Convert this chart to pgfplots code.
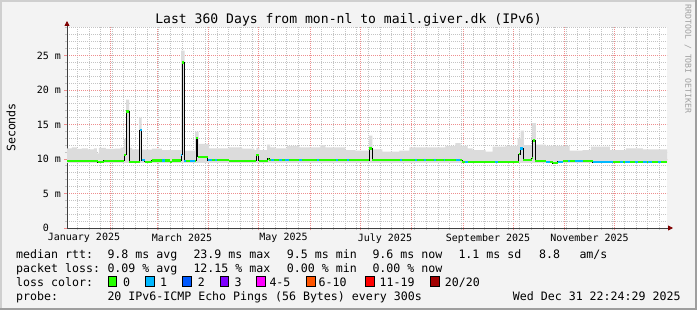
\documentclass[border=0pt]{standalone}
\usepackage{fontspec}
\setmainfont{DejaVu Sans Mono}
\usepackage{pgfplots}
\usepackage{pgfplotstable}
\pgfplotsset{compat=1.18}
\usetikzlibrary{arrows.meta}
\definecolor{bgc}{HTML}{F3F3F3}
\definecolor{shadeA}{HTML}{CFCFCF}
\definecolor{shadeB}{HTML}{9E9E9E}
\definecolor{smoke}{HTML}{DCDCDC}
\definecolor{mgrid}{HTML}{EE8E8E}
\definecolor{ngrid}{HTML}{C4C4C4}
\definecolor{l0}{HTML}{26FF00}
\definecolor{l1}{HTML}{00B8FF}
\definecolor{l2}{HTML}{0059FF}
\definecolor{l3}{HTML}{7E00FF}
\definecolor{l4}{HTML}{FF00FF}
\definecolor{l6}{HTML}{FF5500}
\definecolor{l11}{HTML}{FF0000}
\definecolor{l20}{HTML}{A10000}
\definecolor{arrowc}{HTML}{7F0000}
\definecolor{wmark}{HTML}{A0A0A0}
\newcommand{\fs}[1]{\fontsize{#1bp}{#1bp}\selectfont}

% median rtt (step start day, ms)
\pgfplotstableread{
x y
4.8 9.75
23.4 9.55
27.0 9.75
39.3 10.6
40.5 16.9
42.1 9.55
48.4 14.2
49.6 9.85
51.7 9.6
55.9 9.8
66.5 9.6
68.0 9.8
73.4 10.6
74.1 24.0
75.4 9.75
82.6 13.0
83.3 10.3
89.4 9.85
102.3 9.75
118.7 10.55
120.2 9.75
125.5 10.0
126.5 9.85
186.5 11.5
188.4 9.85
242.5 9.6
276.4 10.7
277.3 11.5
279.2 9.85
284.3 10.1
285.0 12.7
286.4 9.75
292.6 9.6
296.9 9.4
299.9 9.6
302.9 9.7
321.0 9.55
365.6 9.55
}\med

% smoke: upper edge (steps), then lower edge back to start
\pgfplotstableread{
x y
4.8 11.55
7.7 11.7
10.7 11.45
13.7 11.55
17.4 11.4
21.0 11.55
22.8 10.8
24.0 11.6
28.2 11.45
33.6 11.5
37.0 11.65
39.0 12.9
40.3 18.6
42.1 11.6
43.9 11.4
48.2 16.0
49.6 11.35
55.9 11.5
61.9 11.3
73.5 25.7
75.6 11.2
81.9 13.96
84.0 12.2
90.2 11.55
102.3 11.7
110.1 11.5
117.4 11.3
118.7 11.6
120.5 11.3
125.2 12.1
127.0 11.7
130.0 11.55
137.2 11.9
144.5 11.7
157.1 12.0
160.1 11.7
172.2 11.3
178.2 11.2
186.5 13.4
188.4 11.4
194.5 11.06
204.7 11.2
210.7 11.7
232.4 11.9
238.4 12.3
241.5 11.9
245.7 11.55
248.7 11.3
256.5 11.06
260.7 11.8
268.6 11.9
275.8 13.0
277.6 14.1
279.5 12.0
284.3 15.2
286.7 12.1
292.6 11.9
307.1 11.2
314.9 11.3
319.8 11.8
331.2 11.3
340.8 11.55
351.1 11.4
365.6 11.4
365.6 9.45
4.8 9.45
}\smk

% median segments with 1 lost ping
\pgfplotstableread{
x y
48.4 14.2
49.6 14.2
nan nan
49.6 9.85
51.7 9.85
nan nan
62.0 9.8
64.0 9.8
nan nan
73.4 10.6
74.1 10.6
nan nan
75.4 9.75
76.6 9.75
nan nan
78.8 9.75
81.8 9.75
nan nan
89.4 9.85
92.1 9.85
nan nan
93.9 9.85
95.1 9.85
nan nan
127.6 9.85
129.4 9.85
nan nan
132.4 9.85
134.2 9.85
nan nan
136.0 9.85
138.4 9.85
nan nan
144.5 9.85
146.3 9.85
nan nan
155.3 9.85
156.5 9.85
nan nan
166.3 9.85
167.5 9.85
nan nan
173.4 9.85
174.6 9.85
nan nan
205.3 9.85
206.5 9.85
nan nan
214.3 9.85
215.5 9.85
nan nan
219.2 9.85
220.4 9.85
nan nan
225.2 9.85
226.4 9.85
nan nan
231.2 9.85
232.4 9.85
nan nan
239.0 9.85
240.9 9.85
nan nan
243.9 9.6
245.7 9.6
nan nan
261.9 9.6
263.7 9.6
nan nan
277.3 11.5
279.2 11.5
nan nan
292.6 9.6
295.0 9.6
nan nan
299.9 9.6
302.9 9.6
nan nan
305.9 9.7
307.1 9.7
nan nan
310.1 9.7
314.9 9.7
nan nan
321.0 9.55
333.0 9.55
nan nan
337.2 9.55
339.0 9.55
nan nan
340.2 9.55
343.3 9.55
nan nan
346.2 9.55
348.0 9.55
nan nan
351.1 9.55
353.3 9.55
nan nan
354.1 9.55
356.5 9.55
nan nan
360.0 9.55
362.0 9.55
}\blu

\begin{document}
\begin{tikzpicture}
\fill[shadeB] (0bp,0bp) rectangle (697bp,310bp);
\fill[shadeA] (0bp,2bp) rectangle (695bp,310bp);
\fill[bgc] (2bp,2bp) rectangle (695bp,308bp);

\begin{axis}[
  at={(67bp,82bp)}, anchor=south west,
  scale only axis, width=600bp, height=201bp,
  xmin=4.8, xmax=365.6, ymin=0, ymax=29.13,
  axis background/.style={fill=white},
  axis lines=left,
  axis line style={black!75, line width=0.8bp, -{Triangle[length=5bp,width=5bp,color=arrowc,fill=arrowc]}, shorten >=-6bp},
  tick align=outside,
  major tick length=2.5bp, minor tick length=2bp,
  major tick style={mgrid, line width=0.8bp},
  minor tick style={ngrid, line width=0.8bp},
  grid=both,
  major grid style={mgrid, line width=0.8bp, dash pattern=on 1bp off 1bp},
  minor grid style={ngrid, line width=0.8bp, dash pattern=on 1bp off 1bp},
  xtick={31,59,90,120,151,181,212,243,273,304,334},
  xticklabels={},
  minor xtick={11,18,...,361},
  extra x ticks={15,74,135,196,258,319},
  extra x tick labels={January 2025,March 2025,May 2025,July 2025,September 2025,November 2025},
  extra x tick style={grid=none, major tick length=0pt},
  ytick={0,5,10,15,20,25},
  yticklabels={{0\hphantom{mm}},{5 m},{10 m},{15 m},{20 m},{25 m}},
  minor ytick={1,2,...,29},
  tick label style={font=\fs{10}, text=black},
  xticklabel style={yshift=-2bp},
  clip=true,
]
\addplot[smoke, fill=smoke, draw=none, const plot] table {\smk};
\addplot[black, line width=1bp, const plot] table {\med};
\addplot[l0, line width=2.3bp, jump mark left] table {\med};
\addplot[l1, line width=2.3bp, unbounded coords=jump] table {\blu};
\end{axis}

% title
\node[anchor=base, font=\fs{13.1}, inner sep=0] at (348.5bp,286.5bp) {Last 360 Days from mon-nl to mail.giver.dk (IPv6)};
% y label
\node[rotate=90, font=\fs{11.6}, inner sep=0] at (11bp,182.5bp) {Seconds};
% watermark
\node[rotate=-90, font=\fs{8.2}, text=wmark, inner sep=0] at (688bp,251bp) {RRDTOOL / TOBI OETIKER};

% legend
\begin{scope}[every node/.style={anchor=base west, font=\fs{11.6}, inner sep=0}]
\node at (16bp,51.7bp) {median rtt:};
\node at (107.3bp,51.7bp) {9.8 ms avg};
\node at (193.3bp,51.7bp) {23.9 ms max};
\node at (286.7bp,51.7bp) {9.5 ms min};
\node at (372.3bp,51.7bp) {9.6 ms now};
\node at (458.3bp,51.7bp) {1.1 ms sd};
\node at (539bp,51.7bp) {8.8};
\node at (579.3bp,51.7bp) {am/s};

\node at (16bp,37.8bp) {packet loss:};
\node at (107.3bp,37.8bp) {0.09 \% avg};
\node at (193.3bp,37.8bp) {12.15 \% max};
\node at (286.7bp,37.8bp) {0.00 \% min};
\node at (372.3bp,37.8bp) {0.00 \% now};

\node at (16bp,23.9bp) {loss color:};
\node at (123bp,23.9bp) {0};
\node at (160bp,23.9bp) {1};
\node at (197.7bp,23.9bp) {2};
\node at (234.3bp,23.9bp) {3};
\node at (269.3bp,23.9bp) {4-5};
\node at (318.5bp,23.9bp) {6-10};
\node at (379.5bp,23.9bp) {11-19};
\node at (444.7bp,23.9bp) {20/20};

\node at (16bp,10bp) {probe:};
\node at (107.3bp,10bp) {20 IPv6-ICMP Echo Pings (56 Bytes) every 300s};
\node at (512.7bp,10bp) {Wed Dec 31 22:24:29 2025};
\end{scope}
\foreach \xx/\cc in {108.3/l0,145.7/l1,182.7/l2,220/l3,256.7/l4,306.7/l6,365.7/l11,430.7/l20}{
  \filldraw[fill=\cc, draw=black, line width=0.8bp] (\xx bp,23.6bp) rectangle ++(8.4bp,10bp);
}
\end{tikzpicture}
\end{document}
